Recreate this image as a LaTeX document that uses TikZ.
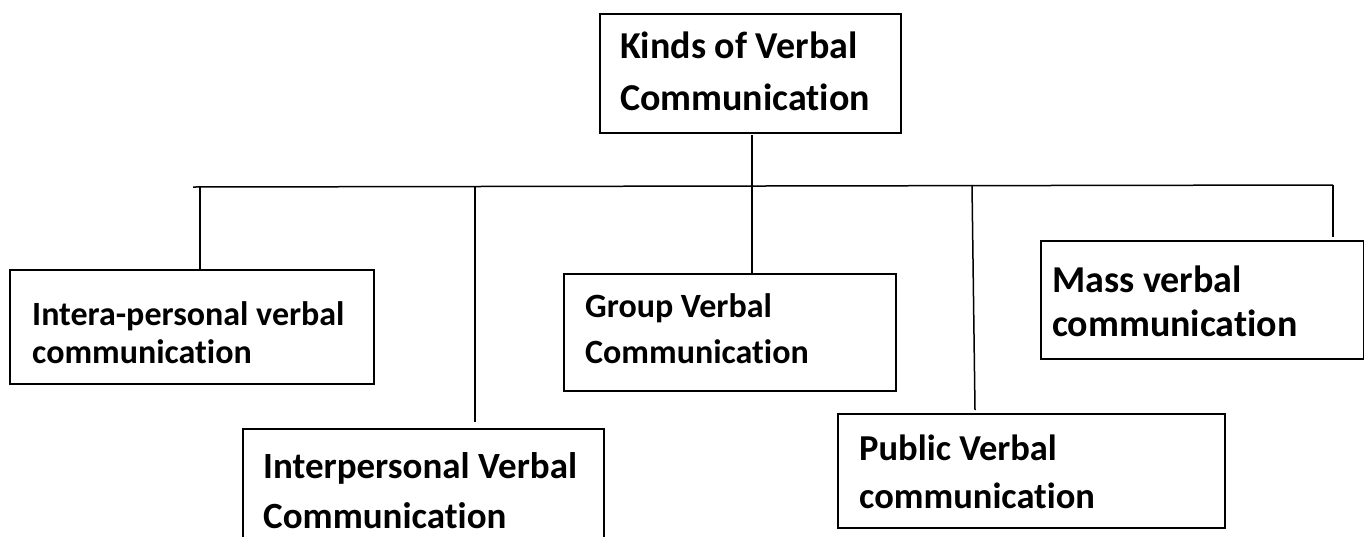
\documentclass[tikz,border=0pt]{standalone}
\usepackage{fontspec}
\setmainfont{Carlito}[Ligatures=NoCommon]
\begin{document}
\begin{tikzpicture}[x=1pt,y=-1pt,
  box/.style={draw=black,line width=1.8pt,rectangle,inner sep=0pt,anchor=north west},
  link/.style={draw=black,line width=1.5pt},
  lbl/.style={anchor=base west,inner sep=0pt,font=\bfseries}]
\useasboundingbox (0,0) rectangle (1364,536);
\clip (0,0) rectangle (1364,536);
% boxes: position = top-left corner, size from the layout
\node[box,minimum width=301pt,minimum height=119pt] (root) at (599,13) {};
\node[box,minimum width=364pt,minimum height=114pt] (intra) at (9,269) {};
\node[box,minimum width=361pt,minimum height=130pt] (inter) at (242,428) {};
\node[box,minimum width=332pt,minimum height=117pt] (group) at (563,273) {};
\node[box,minimum width=387pt,minimum height=114pt] (public) at (837,413) {};
\node[box,minimum width=323pt,minimum height=118pt] (mass) at (1040,240) {};
% labels
\node[lbl,font=\bfseries\fontsize{38}{44}\selectfont] (root1) at (620,58) {Kinds of Verbal};
\node[lbl,font=\bfseries\fontsize{38}{44}\selectfont] (root2) at (620,110) {Communication};
\node[lbl,font=\bfseries\fontsize{34}{40}\selectfont] (intra1) at (32,325) {Intera-personal verbal};
\node[lbl,font=\bfseries\fontsize{34}{40}\selectfont] (intra2) at (32,363) {communication};
\node[lbl,font=\bfseries\fontsize{37}{44}\selectfont] (inter1) at (263,478) {Interpersonal Verbal};
\node[lbl,font=\bfseries\fontsize{37}{44}\selectfont] (inter2) at (263,528) {Communication};
\node[lbl,font=\bfseries\fontsize{34}{40}\selectfont] (group1) at (585,317) {Group Verbal};
\node[lbl,font=\bfseries\fontsize{34}{40}\selectfont] (group2) at (585,363) {Communication};
\node[lbl,font=\bfseries\fontsize{36.5}{42}\selectfont] (public1) at (859,460) {Public Verbal};
\node[lbl,font=\bfseries\fontsize{36.5}{42}\selectfont] (public2) at (859,508) {communication};
\node[lbl,font=\bfseries\fontsize{38}{44}\selectfont] (mass1) at (1052,292) {Mass verbal};
\node[lbl,font=\bfseries\fontsize{38}{44}\selectfont] (mass2) at (1052,336) {communication};
% branch bar and its junctions
\coordinate (barL) at (193,187);
\coordinate (barR) at (1333,185);
\coordinate (trunkTop) at (752,135);
\coordinate (j1) at (200,187);
\coordinate (j2) at (475,186);
\coordinate (j3) at (752,186);
\coordinate (j4) at (972,185);
\coordinate (e2) at (475,422);
\coordinate (e4) at (975,410);
\coordinate (e5) at (1333,237);
% connectors
\draw[link] (barL) -- (barR);
\draw[link] (trunkTop) -- (j3);
\draw[link] (j1) -- (j1 |- intra.north);
\draw[link] (j2) -- (e2);
\draw[link] (j3) -- (j3 |- group.north);
\draw[link] (j4) -- (e4);
\draw[link] (barR) -- (e5);
\end{tikzpicture}
\end{document}
